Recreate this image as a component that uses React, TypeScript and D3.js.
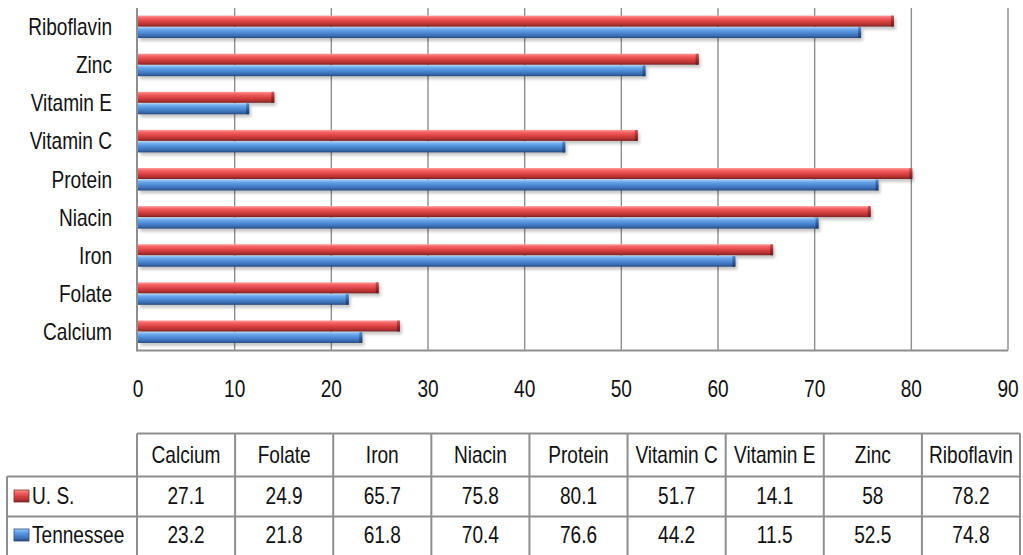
import React from "react";
import * as d3 from "d3";

const categories = ["Calcium", "Folate", "Iron", "Niacin", "Protein", "Vitamin C", "Vitamin E", "Zinc", "Riboflavin"];
const usValues = [27.1, 24.9, 65.7, 75.8, 80.1, 51.7, 14.1, 58, 78.2];
const tnValues = [23.2, 21.8, 61.8, 70.4, 76.6, 44.2, 11.5, 52.5, 74.8];
const seriesNames = ["U. S.", "Tennessee"];
const xTicks = [0, 10, 20, 30, 40, 50, 60, 70, 80, 90];

const W = 1023;
const H = 555;
const FONT = "'Liberation Sans', Arial, sans-serif";
const SX = 0.83;
const GRID = "#8e8e8e";

function T({ x, y, anchor = "middle", size = 23, children }: any) {
  return (
    <text
      transform={`translate(${x},${y}) scale(${SX},1)`}
      textAnchor={anchor}
      fontFamily={FONT}
      fontSize={size}
      fill="#111"
    >
      {children}
    </text>
  );
}

export default function App() {
  const x = d3.scaleLinear().domain([0, 90]).range([138, 1008]);
  const y = d3
    .scaleBand<string>()
    .domain([...categories].reverse())
    .range([8, 351])
    .paddingInner(0)
    .paddingOuter(0);
  const plotTop = 8;
  const plotBottom = 350.5;
  const barH = 11;

  const tableX0 = 137;
  const colW = (1020 - tableX0) / categories.length;
  const legX = 7;
  const rowY = [433.5, 476.5, 516.5, 558];

  const series = [
    { name: seriesNames[0], values: usValues, grad: "gRed", cap: "gRedCap", offset: -barH - 0.5 },
    { name: seriesNames[1], values: tnValues, grad: "gBlue", cap: "gBlueCap", offset: 0 },
  ];

  return (
    <svg width={W} height={H} style={{ position: "absolute", left: 0, top: 0, background: "#fff" }}>
      <defs>
        <linearGradient id="gRed" x1="0" y1="0" x2="0" y2="1">
          <stop offset="0%" stopColor="#ff9d9d" />
          <stop offset="22%" stopColor="#f56262" />
          <stop offset="55%" stopColor="#d94141" />
          <stop offset="80%" stopColor="#b53232" />
          <stop offset="100%" stopColor="#7a2222" />
        </linearGradient>
        <linearGradient id="gRedCap" x1="0" y1="0" x2="0" y2="1">
          <stop offset="0%" stopColor="#d05858" />
          <stop offset="50%" stopColor="#a52a2a" />
          <stop offset="100%" stopColor="#6a1a1a" />
        </linearGradient>
        <linearGradient id="gBlue" x1="0" y1="0" x2="0" y2="1">
          <stop offset="0%" stopColor="#a9d2fa" />
          <stop offset="22%" stopColor="#6aa8ec" />
          <stop offset="55%" stopColor="#4a86d2" />
          <stop offset="80%" stopColor="#3a6cb0" />
          <stop offset="100%" stopColor="#244a80" />
        </linearGradient>
        <linearGradient id="gBlueCap" x1="0" y1="0" x2="0" y2="1">
          <stop offset="0%" stopColor="#5a90d0" />
          <stop offset="50%" stopColor="#2f5fa0" />
          <stop offset="100%" stopColor="#1d3a66" />
        </linearGradient>
        <filter id="shadow" x="-5%" y="-50%" width="110%" height="250%">
          <feGaussianBlur stdDeviation="1.6" />
        </filter>
      </defs>

      {/* gridlines */}
      {xTicks.slice(1).map((t) => (
        <line key={t} x1={x(t)} x2={x(t)} y1={plotTop} y2={plotBottom} stroke={GRID} strokeWidth={1.4} />
      ))}

      {/* bars */}
      {categories.map((c, i) => {
        const cy = (y(c) as number) + y.bandwidth() / 2;
        return (
          <g key={c}>
            {series.map((s) => {
              const x0 = x(0);
              const x1 = x(s.values[i]);
              const top = cy + s.offset;
              return (
                <g key={s.name}>
                  <rect
                    x={x0 + 2}
                    y={top + 3}
                    width={x1 - x0}
                    height={barH}
                    fill="#000"
                    opacity={0.22}
                    filter="url(#shadow)"
                  />
                  <rect x={x0} y={top} width={x1 - x0} height={barH} fill={`url(#${s.grad})`} />
                  <rect x={x1 - 3} y={top} width={3} height={barH} rx={1} fill={`url(#${s.cap})`} />
                </g>
              );
            })}
          </g>
        );
      })}

      {/* axes frame */}
      <line x1={137} x2={137} y1={plotTop} y2={plotBottom + 1} stroke={GRID} strokeWidth={2} />
      <line x1={137} x2={x(90)} y1={plotBottom} y2={plotBottom} stroke={GRID} strokeWidth={2} />

      {/* category labels */}
      {categories.map((c) => (
        <T key={c} x={112} y={(y(c) as number) + y.bandwidth() / 2 + 8} anchor="end">
          {c}
        </T>
      ))}

      {/* tick labels */}
      {xTicks.map((t) => (
        <T key={t} x={x(t)} y={397}>
          {t}
        </T>
      ))}

      {/* data table */}
      <g stroke={GRID} strokeWidth={2} fill="none">
        <line x1={tableX0} x2={tableX0 + colW * categories.length} y1={rowY[0]} y2={rowY[0]} />
        <line x1={legX} x2={tableX0 + colW * categories.length} y1={rowY[1]} y2={rowY[1]} />
        <line x1={legX} x2={tableX0 + colW * categories.length} y1={rowY[2]} y2={rowY[2]} />
        <line x1={legX} x2={legX} y1={rowY[1]} y2={rowY[3]} />
        {d3.range(categories.length + 1).map((k) => (
          <line key={k} x1={tableX0 + k * colW} x2={tableX0 + k * colW} y1={rowY[0]} y2={rowY[3]} />
        ))}
      </g>
      {categories.map((c, k) => (
        <T key={c} x={tableX0 + (k + 0.5) * colW} y={463}>
          {c}
        </T>
      ))}
      {series.map((s, r) => {
        const by = r === 0 ? 504 : 543;
        return (
          <g key={s.name}>
            <rect x={14} y={by - 14} width={15} height={12} fill={`url(#${s.grad})`} stroke={r === 0 ? "#8a2a2a" : "#2a4a7a"} strokeWidth={0.8} />
            <T x={32} y={by} anchor="start">
              {s.name}
            </T>
            {s.values.map((v, k) => (
              <T key={k} x={tableX0 + (k + 0.5) * colW} y={by}>
                {v}
              </T>
            ))}
          </g>
        );
      })}
    </svg>
  );
}
